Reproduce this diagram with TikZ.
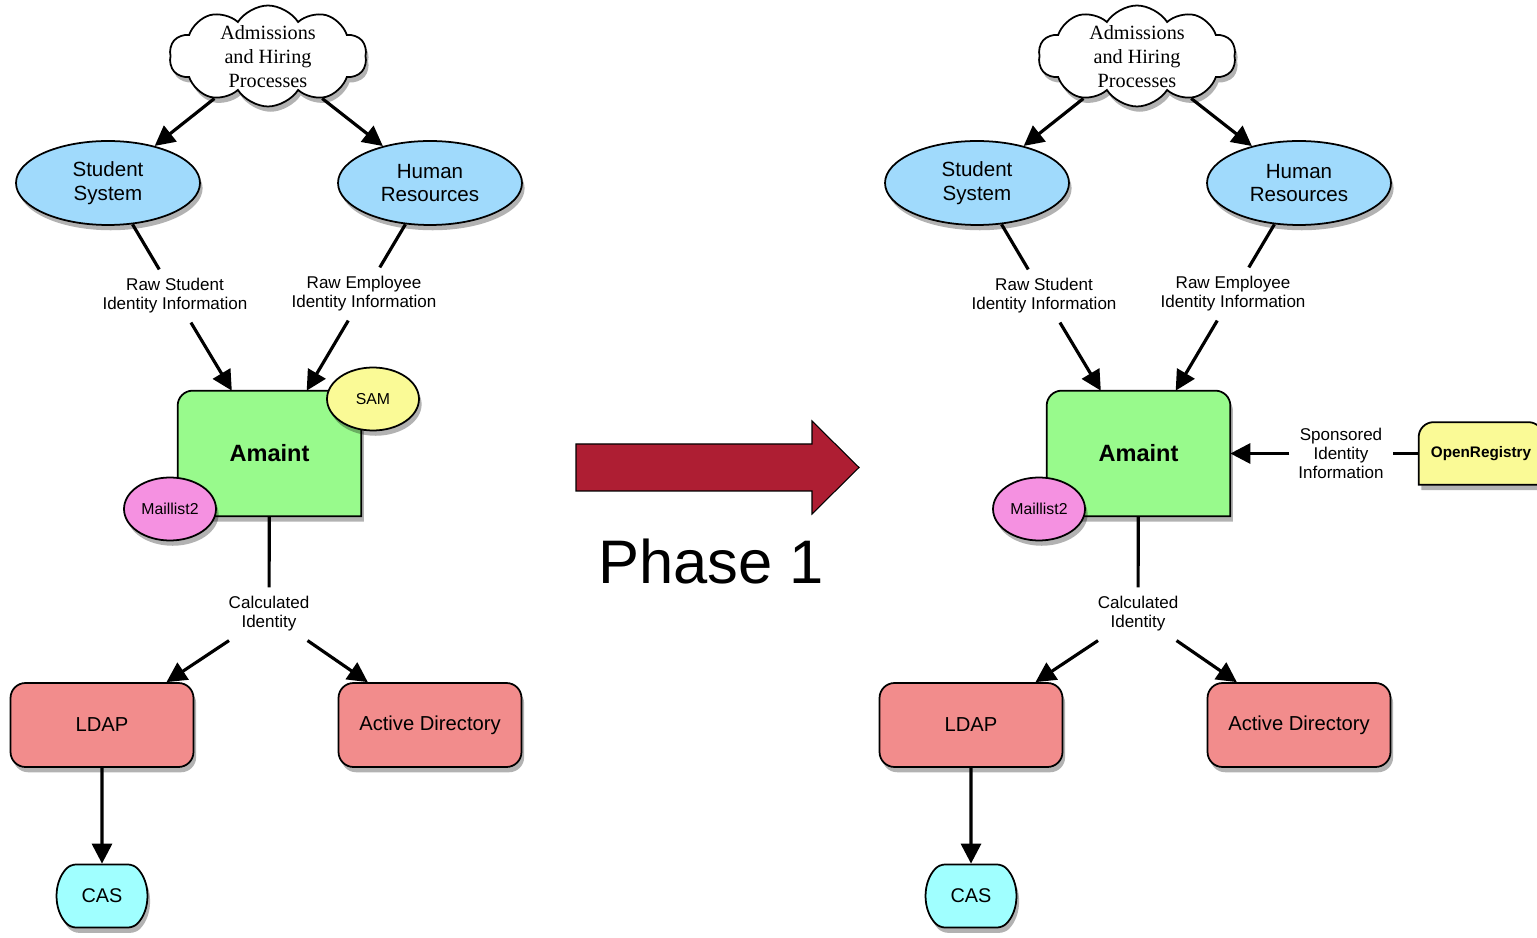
\documentclass[tikz,border=0pt]{standalone}
\usepackage{fontspec}
\setmainfont{Liberation Sans}
\newfontfamily\cloudfont{Liberation Serif}
\usetikzlibrary{shapes.geometric,shapes.symbols,shapes.misc,shadows,arrows.meta,backgrounds}
\definecolor{sysblue}{RGB}{160,218,252}
\definecolor{amaintgreen}{RGB}{152,250,140}
\definecolor{samyellow}{RGB}{250,250,150}
\definecolor{mailpink}{RGB}{245,145,225}
\definecolor{storered}{RGB}{242,140,140}
\definecolor{cascyan}{RGB}{160,255,255}
\definecolor{phasered}{RGB}{174,30,51}
\tikzset{boxshadow/.style={drop shadow={shadow xshift=1.5pt, shadow yshift=-3pt, opacity=0.3, fill=black}}}
\newcommand{\figscale}{0.02cm}
\newcommand{\tabbox}[3]{
	\begin{scope}[on background layer]
	\draw[line width=1pt, fill=#2, boxshadow] (#1.south west) -- ([yshift=-#3]#1.north west)
		arc[start angle=180, end angle=90, radius=#3] -- ([xshift=-#3]#1.north east)
		arc[start angle=90, end angle=0, radius=#3] -- (#1.south east) -- cycle;
	\end{scope}
}

\begin{document}
\begin{tikzpicture}[x=\figscale,y=\figscale,
	system/.style={ellipse, draw, line width=1pt, fill=sysblue, boxshadow, minimum width=3.68cm, minimum height=1.68cm, inner sep=1pt, align=center, font=\fontsize{11.7}{13.6}\selectfont},
	satellite/.style={ellipse, draw, line width=1pt, boxshadow, minimum width=1.84cm, minimum height=1.26cm, inner sep=1pt, font=\fontsize{9}{11}\selectfont},
	store/.style={rectangle, rounded corners=0.3cm, draw, line width=1pt, fill=storered, boxshadow, minimum width=3.66cm, minimum height=1.68cm, font=\fontsize{11.5}{13.6}\selectfont},
	lbl/.style={align=center, inner sep=5pt, font=\fontsize{9.7}{10.8}\selectfont},
	flow/.style={line width=1.8pt, -{Triangle[length=0.4cm, width=0.4cm]}},
	link/.style={line width=1.8pt}]
	\useasboundingbox (0,0) rectangle (1537,937);

	% the two states, before and after phase 1
	\foreach \s/\dx in {L/0, R/869}{
	\begin{scope}[shift={(\dx,0)}]
	\node[cloud, cloud puffs=10, cloud puff arc=115, cloud ignores aspect, draw, line width=1pt, fill=white, boxshadow, minimum width=3.95cm, minimum height=2.02cm, inner sep=0pt, font=\cloudfont\fontsize{11.5}{13.6}\selectfont] (proc\s) at (268,881) {\smash{\raisebox{-4.4pt}{\begin{tabular}[c]{@{}c@{}}Admissions\\and Hiring\\Processes\end{tabular}}}};
	\node[system] (stud\s) at (108,754) {Student\\System};
	\node[system] (hr\s) at (430,754) {Human\\Resources};
	\node[lbl] (rawstud\s) at (175,641) {Raw Student\\Identity Information};
	\node[lbl] (rawemp\s) at (364,643) {Raw Employee\\Identity Information};

	\node[minimum width=3.66cm, minimum height=2.5cm, font=\bfseries\fontsize{13.4}{16}\selectfont] (amaint\s) at (269.5,483.5) {Amaint};
	\tabbox{amaint\s}{amaintgreen}{0.3cm}
	\node[satellite, fill=mailpink] (mail\s) at (170,428) {Maillist2};

	\node[lbl] (calc\s) at (269,323) {Calculated\\Identity};
	\node[store] (ldap\s) at (102,212) {LDAP};
	\node[store] (ad\s) at (430,212) {Active Directory};
	\node[rounded rectangle, rounded rectangle arc length=90, rounded corners=3pt, draw, line width=1pt, fill=cascyan, boxshadow, minimum width=1.88cm, minimum height=1.26cm, font=\fontsize{11.3}{13.6}\selectfont] (cas\s) at (102,41) {CAS};

	\draw[flow] (proc\s) -- (stud\s);
	\draw[flow] (proc\s) -- (hr\s);
	\draw[link] (stud\s) -- (rawstud\s);
	\draw[flow] (rawstud\s) -- (amaint\s);
	\draw[link] (hr\s) -- (rawemp\s);
	\draw[flow] (rawemp\s) -- (amaint\s);
	\draw[link] (amaint\s) -- (calc\s);
	\draw[flow] (calc\s) -- (ldap\s);
	\draw[flow] (calc\s) -- (ad\s);
	\draw[flow] (ldap\s) -- (cas\s);
	\end{scope}
	}

	% before: SAM
	\node[satellite, fill=samyellow] (sam) at (373,538) {SAM};

	% after: OpenRegistry
	\node[lbl] (spons) at (1341,483.5) {Sponsored\\Identity\\Information};
	\node[minimum width=2.48cm, minimum height=1.24cm, font=\bfseries\fontsize{8.7}{10}\selectfont] (openreg) at (1481,483.5) {OpenRegistry};
	\tabbox{openreg}{samyellow}{0.3cm}
	\draw[link] (openreg) -- (spons);
	\draw[flow] (spons) -- (amaintR);

	% phase arrow
	\draw[fill=phasered, line width=0.6pt] (576,446) -- (812,446) -- (812,423) -- (859,469.5) -- (812,516) -- (812,493) -- (576,493) -- cycle;
	\node[font=\fontsize{35}{42}\selectfont] (phase) at (711,375) {Phase 1};
\end{tikzpicture}
\end{document}
